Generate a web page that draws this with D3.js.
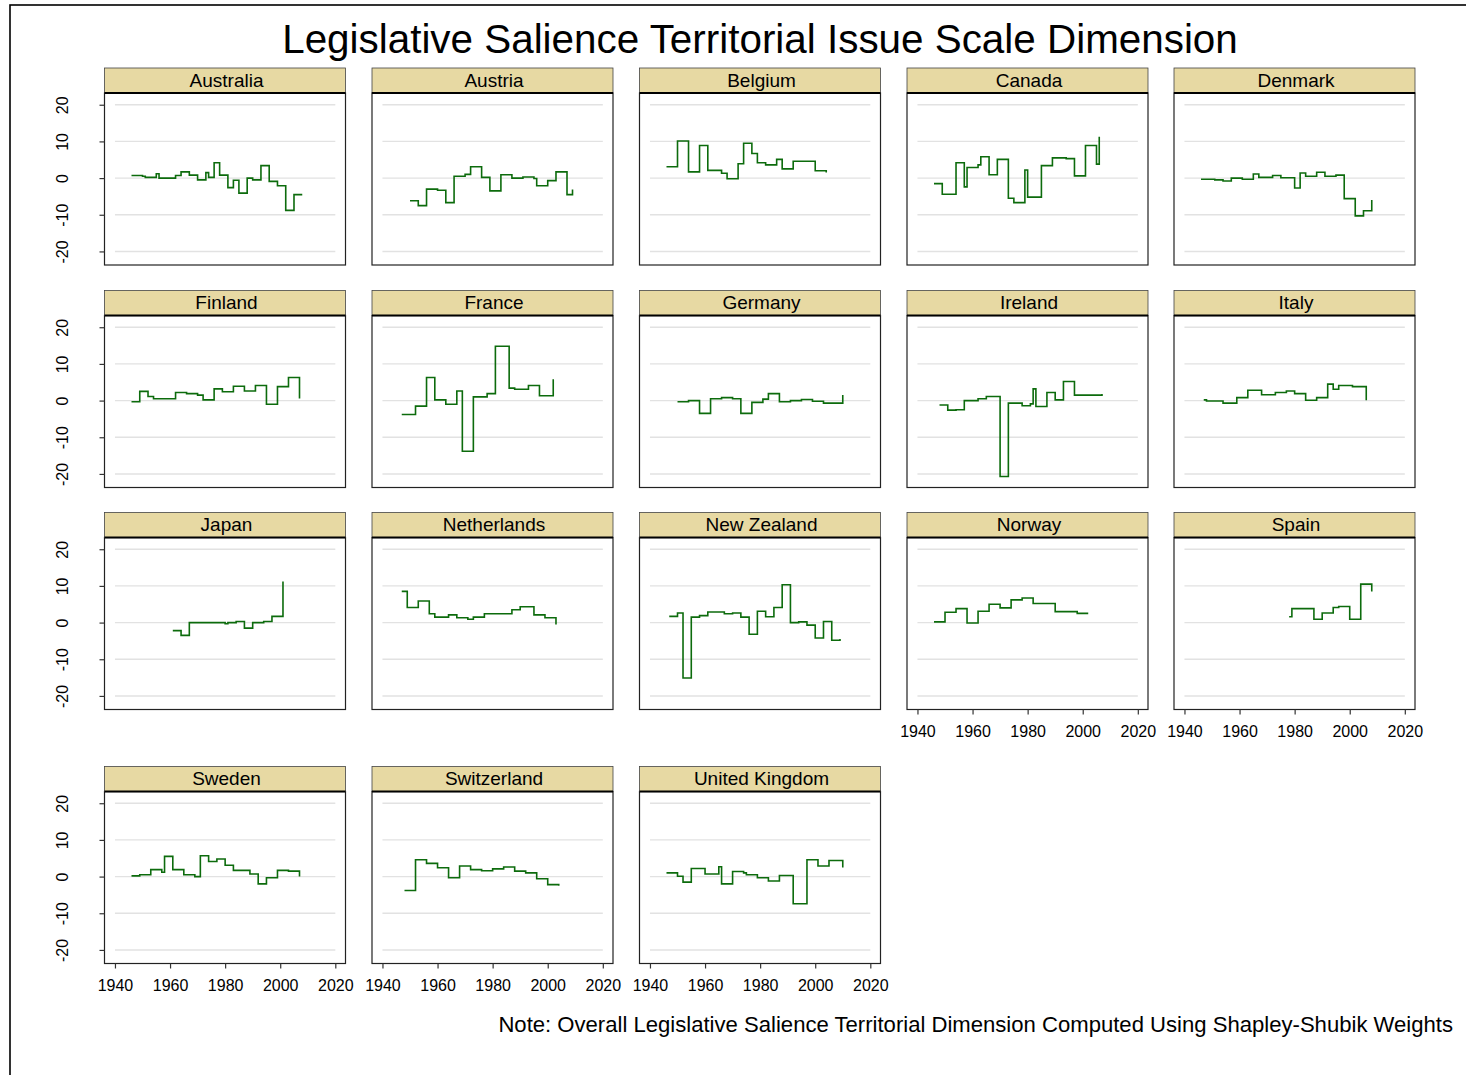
<!DOCTYPE html>
<html>
<head>
<meta charset="utf-8">
<script src="https://cdn.jsdelivr.net/npm/d3@7"></script>
<style>
  body { margin: 0; background: #fff; }
  svg { display: block; font-family: "Liberation Sans", Arial, sans-serif; }
</style>
</head>
<body>
<svg id="chart"></svg>
<script>
// Data: [year, score] pairs, drawn as steps
const countries = ["Australia", "Austria", "Belgium", "Canada", "Denmark",
  "Finland", "France", "Germany", "Ireland", "Italy",
  "Japan", "Netherlands", "New Zealand", "Norway", "Spain",
  "Sweden", "Switzerland", "United Kingdom"];

const australia = [[1946,0.7],[1950,0.5],[1951,0.2],[1955,1.2],[1956,0],[1962,0.7],[1964,1.7],[1967,0.8],[1970,-0.5],[1973,1.5],[1974,0.2],[1976,4.2],[1978,0.8],[1981,-2.6],[1983,-0.6],[1985,-4.1],[1988,0],[1990,-0.5],[1993,3.4],[1996,-0.9],[1999,-2.1],[2002,-8.8],[2005,-4.5],[2008,-4.5]];
const austria = [[1950,-6.2],[1953,-7.5],[1956,-3.0],[1960,-3.3],[1963,-6.7],[1966,0.5],[1970,1.0],[1972,3.1],[1976,0.2],[1979,-3.5],[1983,0.9],[1987,0],[1991,0.3],[1995,-0.1],[1996,-2.1],[2000,-0.7],[2003,1.7],[2007,-4.5],[2009,-3.1]];
const belgium = [[1946,3.1],[1950,10.1],[1954,1.7],[1958,8.9],[1961,2.1],[1966,1.3],[1968,-0.2],[1972,3.9],[1974,9.5],[1977,6.7],[1979,4.2],[1982,3.6],[1986,5.1],[1988,2.5],[1992,4.6],[2000,2.0],[2004,1.5]];
const canada = [[1946,-1.5],[1949,-4.4],[1954,4.2],[1957,-2.4],[1958,2.9],[1962,3.6],[1963,5.8],[1966,0.9],[1969,5.1],[1973,-5.5],[1975,-6.7],[1979,2.2],[1980,-5.2],[1985,3.4],[1989,5.5],[1994,5.3],[1997,0.6],[2001,8.9],[2005,3.8],[2006,11.3]];
const denmark = [[1946,-0.3],[1951,-0.5],[1954,-0.8],[1957,0],[1961,-0.3],[1965,1.1],[1967,0.2],[1972,0.7],[1975,0.1],[1980,-2.7],[1982,1.4],[1984,0.5],[1988,1.6],[1991,0.5],[1995,0.8],[1998,-5.6],[2002,-10.3],[2005,-8.9],[2008,-6.0]];
const finland = [[1946,-0.3],[1949,2.5],[1952,1.1],[1954,0.5],[1962,2.2],[1966,1.9],[1970,1.5],[1972,0.2],[1976,3.2],[1979,2.4],[1983,3.9],[1987,2.6],[1991,4.1],[1995,-1.0],[1999,3.8],[2003,6.3],[2007,0.6]];
const france = [[1947,-3.8],[1952,-1.5],[1956,6.3],[1959,0.2],[1963,-1.0],[1967,2.6],[1969,-13.8],[1973,1.0],[1978,1.9],[1981,14.8],[1986,3.4],[1988,3.1],[1993,4.1],[1997,1.3],[2002,5.8]];
const germany = [[1950,-0.3],[1954,0],[1958,-3.5],[1962,0.5],[1966,0.8],[1970,0.5],[1973,-3.5],[1977,-0.5],[1981,0.4],[1983,1.9],[1987,-0.3],[1991,0],[1995,0.3],[1999,-0.2],[2003,-0.7],[2010,1.5]];
const ireland = [[1948,-1.2],[1951,-2.6],[1954,-2.5],[1957,0],[1962,0.5],[1965,1.1],[1970,-20.7],[1973,-0.7],[1978,-1.4],[1981,-0.9],[1982,3.2],[1983,-1.6],[1987,2.2],[1990,0.2],[1993,5.2],[1997,1.5],[2007,1.8]];
const italy = [[1947,0.2],[1948,-0.1],[1954,-0.7],[1959,0.8],[1963,2.8],[1968,1.6],[1973,2.2],[1977,2.6],[1980,1.9],[1984,0.1],[1988,0.8],[1992,4.5],[1994,3.1],[1996,4.1],[2001,3.8],[2006,0.1]];
const japan = [[1961,-2.2],[1964,-3.5],[1967,0],[1980,-0.3],[1981,0],[1984,0.3],[1987,-1.5],[1990,0],[1994,0.3],[1997,1.7],[2001,11.2]];
const netherlands = [[1947,8.5],[1949,4.1],[1953,5.9],[1957,2.4],[1959,1.5],[1964,2.1],[1967,1.3],[1971,0.9],[1973,1.5],[1977,2.4],[1987,3.5],[1990,4.3],[1995,2.1],[1999,1.3],[2003,-0.5]];
const newZealand = [[1947,1.7],[1950,2.6],[1952,-15.1],[1955,1.5],[1958,1.9],[1961,2.9],[1967,2.4],[1970,2.6],[1973,1.5],[1976,-3.2],[1979,3.1],[1982,1.6],[1985,4.1],[1988,10.3],[1991,0],[1994,0.2],[1997,-0.7],[2000,-4.2],[2003,0.3],[2006,-4.8],[2009,-4.5]];
const norway = [[1946,0.2],[1950,2.8],[1954,3.8],[1958,-0.1],[1962,3.1],[1966,5.0],[1970,4.0],[1974,6.2],[1978,6.7],[1982,5.2],[1990,3.0],[1998,2.5],[2002,2.5]];
const spain = [[1978,1.6],[1979,3.8],[1987,0.9],[1990,2.6],[1994,4.1],[1996,4.4],[2000,0.9],[2004,10.5],[2008,8.5]];
const sweden = [[1946,0.2],[1949,0.5],[1953,1.9],[1957,1.2],[1958,5.5],[1961,1.9],[1965,0.5],[1969,0],[1971,5.7],[1974,4.1],[1977,4.8],[1980,3.1],[1983,1.7],[1989,0.7],[1992,-2.0],[1995,-0.3],[1999,1.7],[2003,1.5],[2007,0]];
const switzerland = [[1948,-3.8],[1952,4.6],[1956,3.6],[1960,2.4],[1964,-0.3],[1968,2.9],[1972,1.9],[1976,1.6],[1980,2.1],[1984,2.6],[1988,1.5],[1992,1.0],[1996,-0.6],[2000,-2.2],[2004,-2.5]];
const unitedKingdom = [[1946,1.0],[1950,0.1],[1952,-1.5],[1955,2.2],[1960,0.7],[1965,2.7],[1966,-2.0],[1970,1.4],[1974,1.0],[1975,0.5],[1979,-0.3],[1983,-1.2],[1987,0.3],[1992,-7.4],[1997,4.6],[2001,2.9],[2005,4.4],[2010,2.5]];

const series = [australia, austria, belgium, canada, denmark, finland, france,
  germany, ireland, italy, japan, netherlands, newZealand, norway, spain,
  sweden, switzerland, unitedKingdom];

const yTicks = [-20, -10, 0, 10, 20];
const xTicks = [1940, 1960, 1980, 2000, 2020];

const titleText = "Legislative Salience Territorial Issue Scale Dimension";
const noteText = "Note: Overall Legislative Salience Territorial Dimension Computed Using Shapley-Shubik Weights";

// Layout
const width = 1466, height = 1075;
const panelW = 241, plotH = 172, stripH = 25;
const colX = [104.5, 372, 639.5, 907, 1174];
const rowY = [93, 315.5, 537.5, 791.5];

const svg = d3.select("#chart").attr("width", width).attr("height", height);

// outer frame (runs off the right and bottom edges)
svg.append("rect")
  .attr("x", 10).attr("y", 5)
  .attr("width", 1480).attr("height", 1090)
  .attr("fill", "none").attr("stroke", "#000").attr("stroke-width", 1.6);

svg.append("text")
  .attr("x", 760).attr("y", 53)
  .attr("text-anchor", "middle")
  .attr("font-size", 40.4)
  .text(titleText);

svg.append("text")
  .attr("x", 1453).attr("y", 1032)
  .attr("text-anchor", "end")
  .attr("font-size", 22.1)
  .text(noteText);

const x = d3.scaleLinear().domain([1936.2, 2023.7]).range([0, panelW]);
const y = d3.scaleLinear().domain([-23.7, 23.2]).range([plotH, 0]);

const line = d3.line()
  .x((d) => x(d[0]))
  .y((d) => y(d[1]))
  .curve(d3.curveStepAfter);

// plain hyphen for negatives, as in the original
const plain = (d) => String(d);

countries.forEach((name, i) => {
  const row = Math.floor(i / 5);
  const col = i % 5;
  const g = svg.append("g")
    .attr("transform", `translate(${colX[col]}, ${rowY[row]})`);

  // plot box
  g.append("rect")
    .attr("width", panelW).attr("height", plotH)
    .attr("fill", "#fff");

  // grid lines
  g.selectAll(".grid")
    .data(yTicks)
    .enter()
    .append("line")
    .attr("x1", x(1940)).attr("x2", x(2020))
    .attr("y1", (d) => y(d)).attr("y2", (d) => y(d))
    .attr("stroke", "#e2e2e2").attr("stroke-width", 1.4);

  // series
  g.append("path")
    .datum(series[i])
    .attr("d", line)
    .attr("fill", "none")
    .attr("stroke", "#0c6b0c")
    .attr("stroke-width", 1.6);

  g.append("rect")
    .attr("width", panelW).attr("height", plotH)
    .attr("fill", "none").attr("stroke", "#222").attr("stroke-width", 1.2);

  // strip
  g.append("rect")
    .attr("y", -stripH).attr("width", panelW).attr("height", stripH)
    .attr("fill", "#e7d9a3").attr("stroke", "#444").attr("stroke-width", 0.8);
  g.append("line")
    .attr("x1", 0).attr("x2", panelW).attr("y1", 0).attr("y2", 0)
    .attr("stroke", "#000").attr("stroke-width", 2);
  g.append("text")
    .attr("x", panelW / 2 + 1.5).attr("y", -6.5)
    .attr("text-anchor", "middle")
    .attr("font-size", 19)
    .text(name);

  // y axis on first column
  if (col === 0) {
    const ya = g.append("g")
      .call(d3.axisLeft(y).tickValues(yTicks).tickSize(5).tickFormat(plain));
    ya.select(".domain").remove();
    ya.attr("font-size", 16).attr("font-family", null);
    ya.selectAll(".tick line").attr("stroke", "#333").attr("stroke-width", 1.2);
    ya.selectAll(".tick text")
      .attr("transform", "rotate(-90)")
      .attr("x", 0).attr("y", -36.5).attr("dy", null)
      .attr("text-anchor", "middle")
      .attr("fill", "#000");
  }

  // x axis where no panel sits below
  if (i + 5 >= countries.length) {
    const xa = g.append("g")
      .attr("transform", `translate(0, ${plotH})`)
      .call(d3.axisBottom(x).tickValues(xTicks).tickSize(5).tickFormat(plain));
    xa.select(".domain").remove();
    xa.attr("font-size", 16).attr("font-family", null);
    xa.selectAll(".tick line").attr("stroke", "#333").attr("stroke-width", 1.2);
    xa.selectAll(".tick text").attr("y", 27).attr("dy", null).attr("fill", "#000");
  }
});
</script>
</body>
</html>
